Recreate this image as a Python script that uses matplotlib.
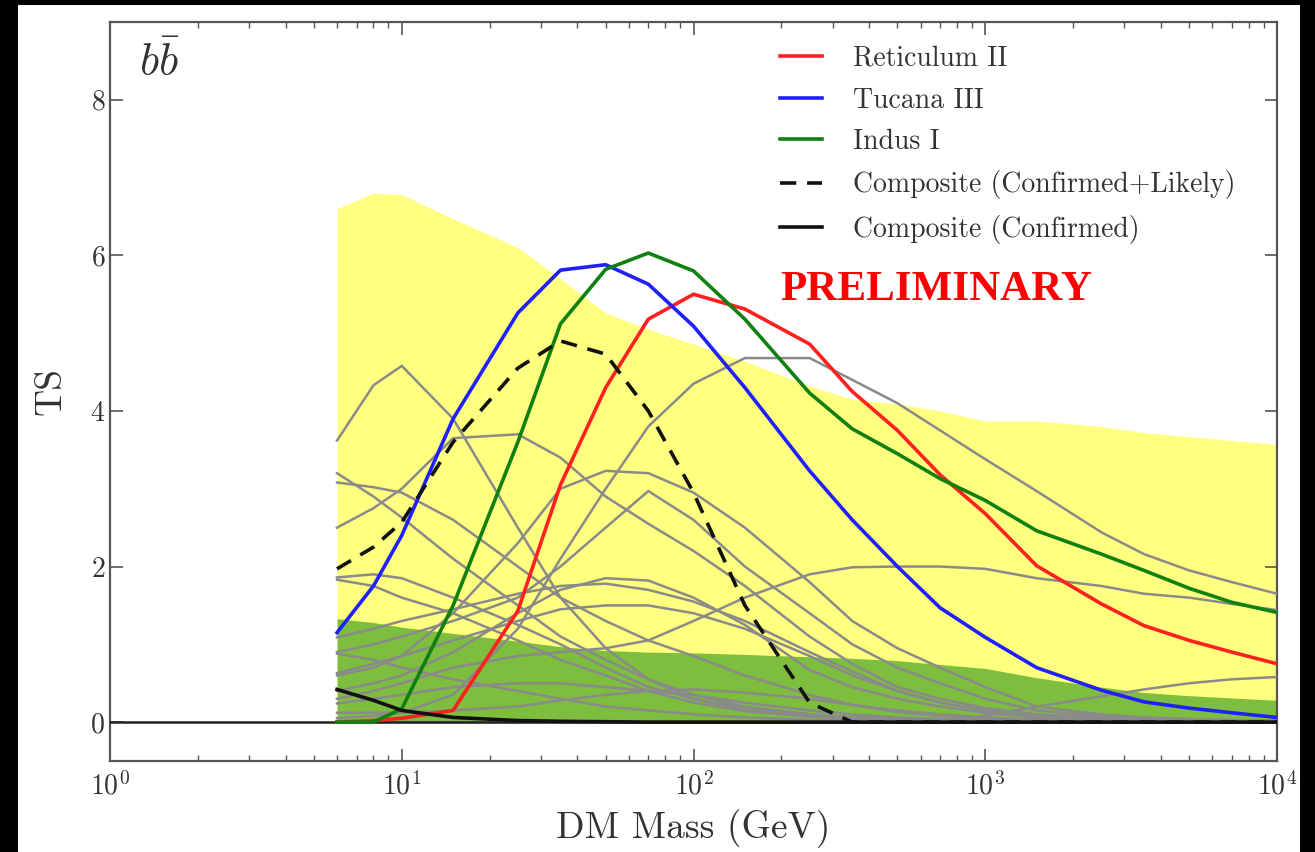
import matplotlib
matplotlib.use('Agg')
import matplotlib.pyplot as plt
from matplotlib.patches import Rectangle

plt.rcParams['font.family'] = 'serif'
plt.rcParams['font.serif'] = ['cmr10']
plt.rcParams['mathtext.fontset'] = 'cm'
plt.rcParams['axes.unicode_minus'] = False
plt.rcParams['axes.formatter.use_mathtext'] = True

# DM masses (GeV)
mass = [6, 8, 10, 15, 25, 35, 50, 70, 100, 150, 250, 350, 500, 700,
        1000, 1500, 2500, 3500, 5000, 7000, 10000]

# expectation bands (upper edges)
band95 = [6.6, 6.8, 6.78, 6.47, 6.1, 5.7, 5.26, 5.05, 4.86, 4.64, 4.32, 4.15,
          4.09, 4.0, 3.87, 3.87, 3.8, 3.72, 3.67, 3.62, 3.57]
band68 = [1.33, 1.28, 1.22, 1.14, 1.04, 0.97, 0.92, 0.9, 0.89, 0.87, 0.84, 0.82,
          0.79, 0.74, 0.69, 0.57, 0.45, 0.38, 0.34, 0.31, 0.28]

ts_ret2 = [0.0, 0.02, 0.05, 0.15, 1.43, 3.05, 4.3, 5.18, 5.5, 5.31, 4.86, 4.25,
           3.75, 3.18, 2.68, 2.01, 1.52, 1.24, 1.05, 0.9, 0.75]
ts_tuc3 = [1.15, 1.75, 2.4, 3.9, 5.26, 5.81, 5.88, 5.63, 5.09, 4.3, 3.23, 2.6,
           2.0, 1.47, 1.09, 0.7, 0.41, 0.26, 0.18, 0.12, 0.06]
ts_ind1 = [0.0, 0.0, 0.17, 1.5, 3.6, 5.12, 5.82, 6.03, 5.8, 5.18, 4.23, 3.77,
           3.45, 3.13, 2.85, 2.46, 2.16, 1.95, 1.72, 1.54, 1.41]
ts_comp_cl = [1.97, 2.25, 2.57, 3.6, 4.55, 4.9, 4.73, 4.0, 2.95, 1.5, 0.25, 0.0,
              0.0, 0.0, 0.0, 0.0, 0.0, 0.0, 0.0, 0.0, 0.0]
ts_comp_c = [0.42, 0.28, 0.15, 0.06, 0.02, 0.01, 0.005, 0.0, 0.0, 0.0, 0.0, 0.0,
             0.0, 0.0, 0.0, 0.0, 0.0, 0.0, 0.0, 0.0, 0.0]

# other dwarfs (gray)
ts_others = [
    [3.62, 4.33, 4.58, 3.9, 2.5, 1.6, 0.95, 0.55, 0.3, 0.18, 0.1, 0.06, 0.04, 0.03, 0.02, 0.02, 0.01, 0.01, 0.01, 0.01, 0.01],
    [0.05, 0.08, 0.12, 0.35, 1.2, 2.1, 3.0, 3.8, 4.35, 4.68, 4.68, 4.4, 4.1, 3.75, 3.38, 2.97, 2.44, 2.16, 1.95, 1.8, 1.65],
    [2.5, 2.75, 3.0, 3.65, 3.7, 3.4, 2.9, 2.55, 2.2, 1.75, 1.1, 0.75, 0.45, 0.3, 0.18, 0.1, 0.06, 0.04, 0.03, 0.02, 0.02],
    [0.6, 0.7, 0.85, 1.4, 2.3, 3.0, 3.23, 3.2, 2.95, 2.5, 1.8, 1.3, 0.95, 0.7, 0.45, 0.2, 0.1, 0.06, 0.04, 0.03, 0.02],
    [0.3, 0.4, 0.5, 0.7, 0.85, 0.9, 0.95, 1.05, 1.3, 1.6, 1.9, 1.99, 2.0, 2.0, 1.97, 1.85, 1.75, 1.65, 1.6, 1.52, 1.44],
    [0.0, 0.0, 0.0, 0.0, 0.0, 0.0, 0.0, 0.0, 0.0, 0.0, 0.0, 0.0, 0.01, 0.02, 0.08, 0.2, 0.33, 0.42, 0.5, 0.55, 0.58],
    [3.2, 2.9, 2.63, 2.1, 1.5, 1.1, 0.8, 0.55, 0.35, 0.2, 0.1, 0.06, 0.04, 0.03, 0.02, 0.01, 0.01, 0.01, 0.01, 0.01, 0.01],
    [3.08, 3.02, 2.95, 2.6, 2.0, 1.6, 1.3, 1.05, 0.85, 0.6, 0.35, 0.22, 0.13, 0.08, 0.05, 0.03, 0.02, 0.01, 0.01, 0.01, 0.01],
    [1.86, 1.9, 1.85, 1.6, 1.25, 1.0, 0.7, 0.45, 0.3, 0.15, 0.08, 0.05, 0.03, 0.02, 0.01, 0.01, 0.01, 0.01, 0.01, 0.01, 0.01],
    [1.83, 1.75, 1.6, 1.4, 1.05, 0.8, 0.6, 0.4, 0.25, 0.14, 0.07, 0.04, 0.02, 0.01, 0.01, 0.01, 0.01, 0.01, 0.01, 0.01, 0.01],
    [1.09, 1.2, 1.3, 1.45, 1.65, 1.75, 1.78, 1.7, 1.55, 1.3, 0.9, 0.65, 0.4, 0.25, 0.15, 0.08, 0.04, 0.02, 0.01, 0.01, 0.01],
    [0.88, 0.8, 0.7, 0.55, 0.4, 0.3, 0.2, 0.15, 0.1, 0.06, 0.03, 0.02, 0.01, 0.01, 0.01, 0.01, 0.01, 0.01, 0.01, 0.01, 0.01],
    [0.63, 0.75, 0.85, 1.05, 1.3, 1.45, 1.5, 1.5, 1.4, 1.2, 0.85, 0.6, 0.4, 0.25, 0.15, 0.08, 0.04, 0.02, 0.01, 0.01, 0.01],
    [0.24, 0.3, 0.35, 0.45, 0.5, 0.5, 0.45, 0.4, 0.35, 0.25, 0.15, 0.1, 0.06, 0.04, 0.02, 0.01, 0.01, 0.01, 0.01, 0.01, 0.01],
    [0.12, 0.12, 0.12, 0.15, 0.2, 0.28, 0.35, 0.4, 0.42, 0.38, 0.3, 0.22, 0.15, 0.1, 0.06, 0.03, 0.02, 0.01, 0.01, 0.01, 0.01],
    [0.4, 0.5, 0.6, 0.9, 1.4, 1.7, 1.85, 1.82, 1.6, 1.25, 0.67, 0.45, 0.3, 0.2, 0.12, 0.06, 0.03, 0.02, 0.01, 0.01, 0.01],
    [0.9, 1.0, 1.1, 1.3, 1.6, 2.0, 2.5, 2.97, 2.6, 2.0, 1.4, 1.0, 0.7, 0.5, 0.3, 0.15, 0.08, 0.05, 0.03, 0.02, 0.01],
]

fig = plt.figure(figsize=(13.15, 8.52), dpi=100)
fig.patch.set_facecolor('black')
fig.add_artist(Rectangle((18 / 1315, 0), (1300 - 18) / 1315, 847 / 852,
                         transform=fig.transFigure, facecolor='white',
                         edgecolor='none', zorder=-10))
ax = fig.add_axes([110 / 1315, 91 / 852, 1167 / 1315, 739 / 852])

ax.fill_between(mass, 0, band95, color='#ffff80', lw=0, zorder=1)
ax.fill_between(mass, 0, band68, color='#7dbe3f', lw=0, zorder=2)

for ts in ts_others:
    ax.plot(mass, ts, color='#8a8a8a', lw=1.8, zorder=3)

ax.axhline(0, color='#222222', lw=1.8, zorder=4)

ax.plot(mass, ts_ret2, color='#ff2020', lw=2.6, zorder=6, label='Reticulum II')
ax.plot(mass, ts_tuc3, color='#2020ff', lw=2.6, zorder=6, label='Tucana III')
ax.plot(mass, ts_ind1, color='#108010', lw=2.6, zorder=6, label='Indus I')
ax.plot(mass, ts_comp_cl, color='#111111', lw=2.6, ls=(0, (4.5, 3)), zorder=7,
        label='Composite (Confirmed+Likely)')
ax.plot(mass, ts_comp_c, color='#111111', lw=2.6, zorder=7,
        label='Composite (Confirmed)')

ax.set_xscale('log')
ax.set_xlim(1, 1e4)
ax.set_ylim(-0.5, 9)
ax.set_yticks([0, 2, 4, 6, 8])

txt = '#333333'
for s in ax.spines.values():
    s.set_color('#555555')
    s.set_linewidth(1.6)
ax.tick_params(which='both', direction='in', top=True, right=True,
               colors='#555555', labelcolor=txt, labelsize=20)
ax.tick_params(which='major', length=9, width=1.2)
ax.tick_params(which='minor', length=4, width=1.0)
ax.tick_params(axis='x', pad=8)

ax.set_xlabel('DM Mass (GeV)', fontsize=27, color=txt, labelpad=6)
ax.set_ylabel('TS', fontsize=27, color=txt, labelpad=16)

ax.text(0.025, 0.975, r'$b\bar{b}$', transform=ax.transAxes, fontsize=32,
        color=txt, va='top', ha='left')
ax.text(0.574, 0.637, 'PRELIMINARY', transform=ax.transAxes,
        family=['Liberation Serif'], weight='bold', fontsize=31, color='#ff0000',
        va='center', ha='left', zorder=8)

leg = ax.legend(loc='upper left', bbox_to_anchor=(0.574, 0.968), frameon=False,
                fontsize=20, handlelength=1.5, handletextpad=1.15,
                labelspacing=0.55, borderpad=0, borderaxespad=0)
for t in leg.get_texts():
    t.set_color(txt)

fig.savefig('out.png', dpi=100, facecolor=fig.get_facecolor())
